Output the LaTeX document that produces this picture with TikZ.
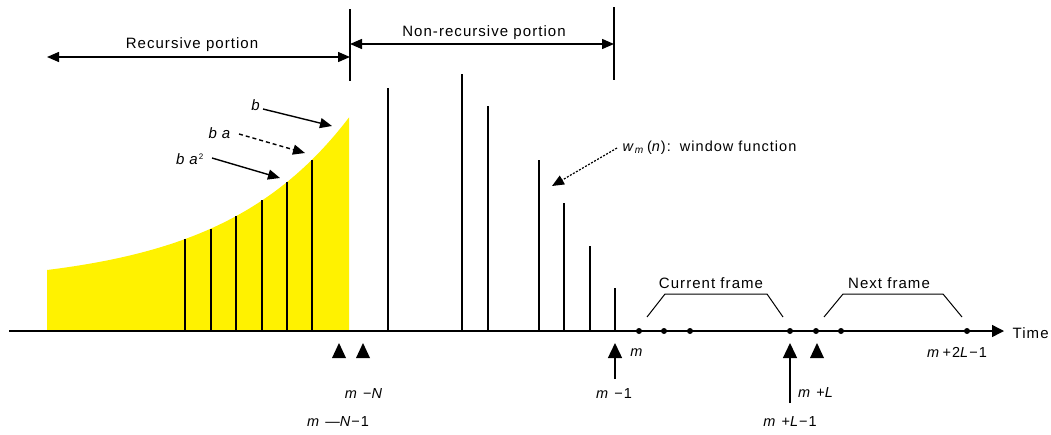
\documentclass[tikz,border=0pt]{standalone}
\usepackage{fontspec}
\setmainfont{Liberation Sans}
\newfontfamily\spacedfont[LetterSpace=7]{Liberation Sans}
\usetikzlibrary{arrows.meta}
\begin{document}
\begin{tikzpicture}[x=1pt,y=-1pt,
  line width=1.4pt,
  lbl/.style={font=\spacedfont\fontsize{15}{17}\selectfont, inner sep=0pt},
  sml/.style={font=\spacedfont\fontsize{14.5}{16}\selectfont, inner sep=0pt},
  tip/.style={-{Triangle[length=12pt,width=10pt]}},
  dbl/.style={{Triangle[length=12pt,width=10pt]}-{Triangle[length=12pt,width=10pt]}},
  stem/.style={line width=1.5pt},
  dotm/.style={circle, fill=black, inner sep=0pt, minimum size=6pt},
  marker/.style={fill=black},
  bracket/.style={line width=1pt}]
\useasboundingbox (0,0) rectangle (1051,434);
\def\hy#1{331-45-16*exp(0.0078*((#1)-47))}
% yellow recursive region
\fill[yellow] (47,331) -- plot[domain=47:349, samples=80] (\x,{\hy{\x}}) -- (349,331) -- cycle;
% stems in recursive region
\foreach \sx in {185,211,236,262,287,312}
  \draw[stem] (\sx,331) -- (\sx,{\hy{\sx}});
% window stems
\foreach \sx/\sy in {388/88,462/74,488/106,539/160,564/203,590/246,615/288}
  \draw[stem] (\sx,331) -- (\sx,\sy);
% portion limits
\draw (350,9) -- (350,81);
\draw (614,7) -- (614,80);
\coordinate (recL) at (47,57);
\coordinate (recR) at (350,57);
\coordinate (nrL) at (350,44);
\coordinate (nrR) at (614,44);
\draw[dbl] (recL) -- (recR);
\draw[dbl] (nrL) -- (nrR);
\node[lbl] (rec) at (192,45) {Recursive portion};
\node[lbl] (nonrec) at (484,33) {Non-recursive portion};
% b labels
\node[lbl] (b0) at (256,105) {\textit{b}};
\node[lbl] (b1) at (220,133) {\textit{b\,\,a}};
\node[lbl] (b2) at (190,159) {\textit{b\,\,a}\textsuperscript{\fontsize{8}{8}\selectfont 2}};
\coordinate (t0) at (332,126);
\coordinate (t1) at (305,153);
\coordinate (t2) at (280,178);
\draw[tip] (263,109) -- (t0);
\draw[tip, dash pattern=on 4pt off 3pt] (239,134) -- (t1);
\draw[tip] (212,158) -- (t2);
% window function
\node[sml, anchor=west] (wf) at (622,148) {\textit{w}\textsubscript{\textit{m}}\,(\textit{n}):\, window function};
\coordinate (wt) at (552,186);
\draw[tip, line width=1.2pt, dash pattern=on 2pt off 1.5pt] (wf.west) ++(-5,0) -- (wt);
% time axis
\coordinate (a0) at (9,331);
\coordinate (a1) at (1004,331);
\draw[-{Triangle[length=12pt,width=12pt]}] (a0) -- (a1);
\node[lbl, anchor=west] (time) at (1012,333) {Time};
\foreach \dx in {639,664,690,790,816,841,967}
  \node[dotm] at (\dx,331) {};
% frames
\draw[bracket] (647,317) -- (665,294) -- (767,294) -- (783,317);
\draw[bracket] (824,317) -- (843,294) -- (943,294) -- (962,317);
\node[lbl] (cur) at (711,283) {Current frame};
\node[lbl] (next) at (889,283) {Next frame};
% markers under axis
\foreach \mx in {339,363,817}
  \fill[marker] (\mx-7,358) -- (\mx,343) -- (\mx+7,358) -- cycle;
\coordinate (m1b) at (615,379);
\coordinate (m1t) at (615,343);
\coordinate (mlb) at (790,403);
\coordinate (mlt) at (790,343);
\draw[-{Triangle[length=15pt,width=14pt]}] (m1b) -- (m1t);
\draw[-{Triangle[length=15pt,width=14pt]}] (mlb) -- (mlt);
% labels under axis
\node[sml] (lm) at (637,353) {\textit{m}};
\node[sml] (lmN) at (364,394) {\textit{m} −\textit{N}};
\node[sml] (lmN1) at (338,422) {\textit{m} —\textit{N}−1};
\node[sml] (lm1) at (614,394) {\textit{m} −1};
\node[sml] (lmL) at (816,393) {\textit{m} +\textit{L}};
\node[sml] (lmL1) at (790,422) {\textit{m} +\textit{L}−1};
\node[sml] (lm2L) at (957,352) {\textit{m}\,+2\textit{L}−1};
\end{tikzpicture}
\end{document}
